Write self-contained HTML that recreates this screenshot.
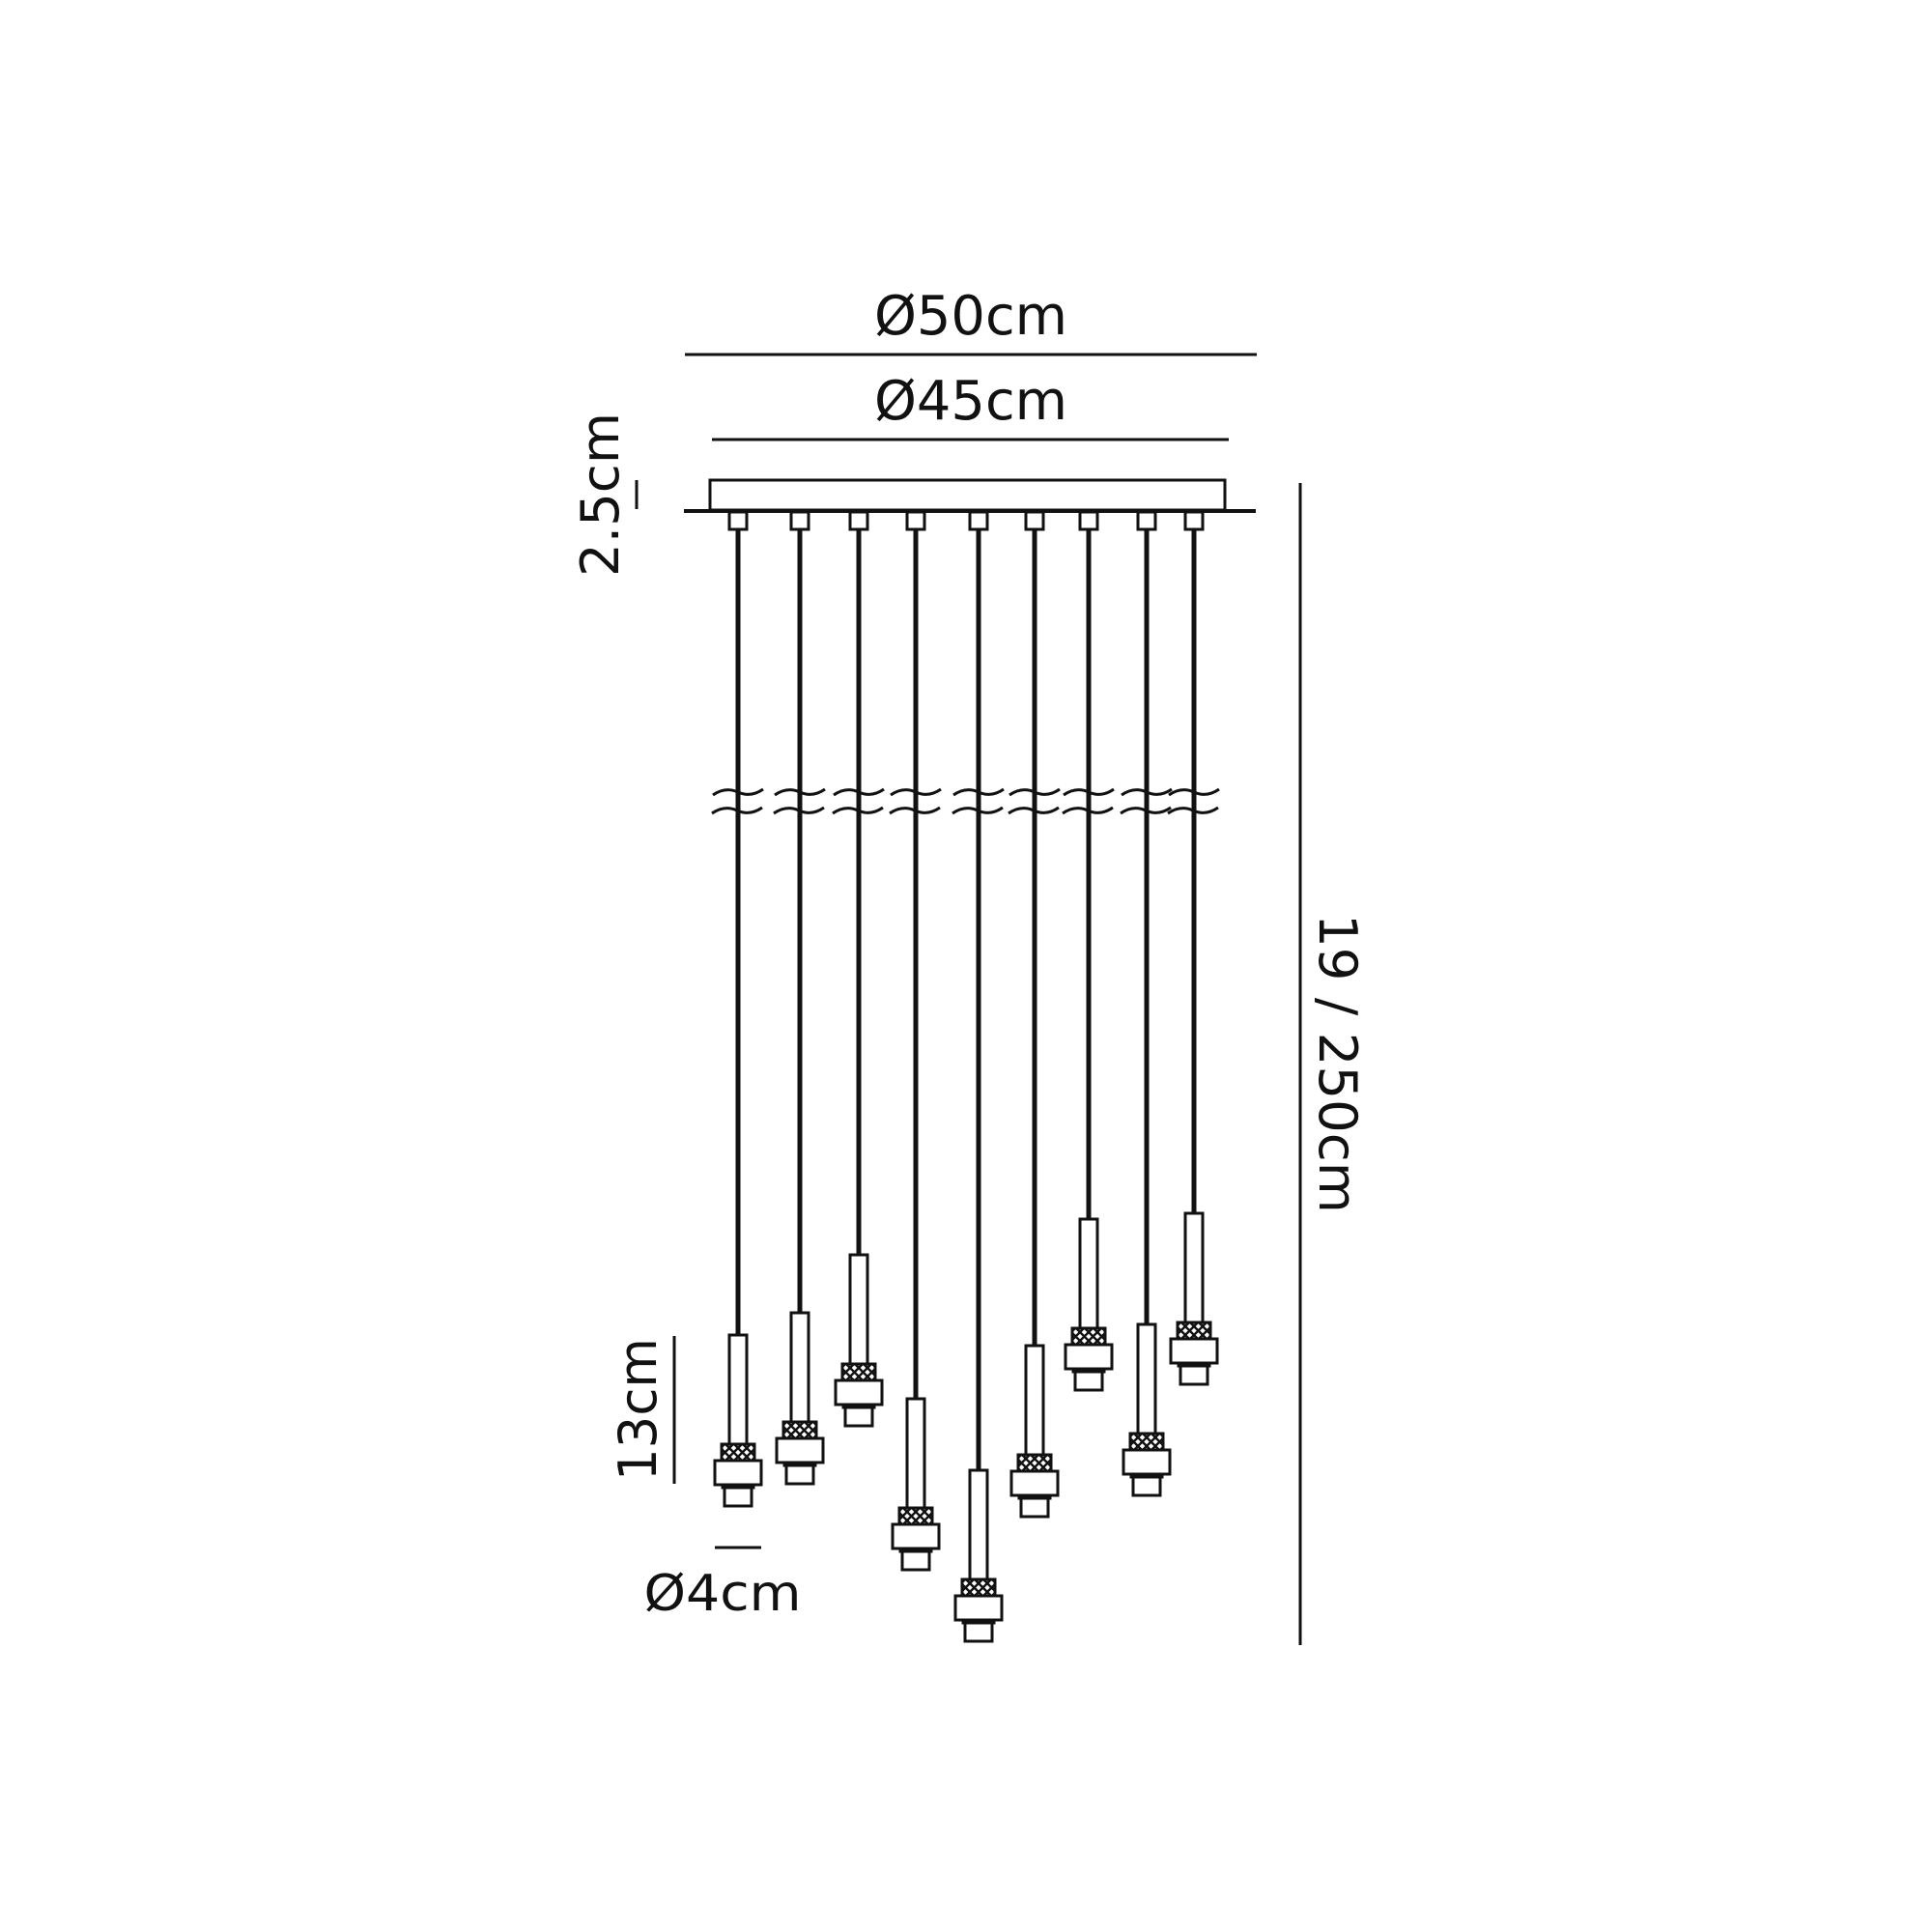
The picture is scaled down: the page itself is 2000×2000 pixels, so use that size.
<!DOCTYPE html>
<html><head><meta charset="utf-8"><style>html,body{margin:0;padding:0;background:#fff}svg{display:block}</style></head>
<body>
<svg width="2000" height="2000" viewBox="0 0 2000 2000" xmlns="http://www.w3.org/2000/svg">
<defs>
<pattern id="kn" width="9" height="9" patternUnits="userSpaceOnUse">
<rect width="9" height="9" fill="#fff"/>
<path d="M0 0L9 9M9 0L0 9" stroke="#111" stroke-width="2.4"/>
</pattern>
<g id="b" stroke="#111" stroke-width="3" fill="#fff">
<rect x="-9" y="0" width="18" height="113"/>
<rect x="-17" y="113" width="34" height="17" fill="url(#kn)"/>
<rect x="-24" y="130" width="48" height="25"/>
<rect x="-16" y="155" width="32" height="3"/>
<rect x="-14" y="158" width="28" height="19"/>
</g>
<g id="top" stroke="#111" fill="#fff">
<rect x="-9" y="530" width="18" height="18" stroke-width="3"/>
<path fill="none" stroke-width="3" d="M-26 823 q13 -9 26 -3 t26 -3 M-27 842 q13 -9 26 -3 t26 -3"/>
</g>
</defs>
<g fill="none" stroke="#111" stroke-width="3">
<line x1="709" y1="367" x2="1301" y2="367"/>
<line x1="737" y1="455" x2="1272" y2="455"/>
<rect x="735" y="497" width="533" height="31" fill="#fff"/>
<line x1="708" y1="529" x2="1300" y2="529" stroke-width="4"/>
<line x1="1346" y1="500" x2="1346" y2="1703"/>
<line x1="659" y1="497" x2="659" y2="527"/>
<line x1="698" y1="1383" x2="698" y2="1536"/>
<line x1="740" y1="1602" x2="788" y2="1602"/>
</g>
<g stroke="#111" stroke-width="5">
<line x1="764" y1="548" x2="764" y2="1382"/>
<line x1="828" y1="548" x2="828" y2="1359"/>
<line x1="889" y1="548" x2="889" y2="1299"/>
<line x1="948" y1="548" x2="948" y2="1448"/>
<line x1="1013" y1="548" x2="1013" y2="1522"/>
<line x1="1071" y1="548" x2="1071" y2="1393"/>
<line x1="1127" y1="548" x2="1127" y2="1262"/>
<line x1="1187" y1="548" x2="1187" y2="1371"/>
<line x1="1236" y1="548" x2="1236" y2="1256"/>
</g>
<use href="#top" transform="translate(764,0)"/>
<use href="#top" transform="translate(828,0)"/>
<use href="#top" transform="translate(889,0)"/>
<use href="#top" transform="translate(948,0)"/>
<use href="#top" transform="translate(1013,0)"/>
<use href="#top" transform="translate(1071,0)"/>
<use href="#top" transform="translate(1127,0)"/>
<use href="#top" transform="translate(1187,0)"/>
<use href="#top" transform="translate(1236,0)"/>
<use href="#b" transform="translate(764,1382)"/>
<use href="#b" transform="translate(828,1359)"/>
<use href="#b" transform="translate(889,1299)"/>
<use href="#b" transform="translate(948,1448)"/>
<use href="#b" transform="translate(1013,1522)"/>
<use href="#b" transform="translate(1071,1393)"/>
<use href="#b" transform="translate(1127,1262)"/>
<use href="#b" transform="translate(1187,1371)"/>
<use href="#b" transform="translate(1236,1256)"/>
<g font-family="DejaVu Sans, Liberation Sans, sans-serif" font-size="56" fill="#111">
<text x="1005" y="346" text-anchor="middle" textLength="200" lengthAdjust="spacingAndGlyphs">Ø50cm</text>
<text x="1005" y="434" text-anchor="middle" textLength="200" lengthAdjust="spacingAndGlyphs">Ø45cm</text>
<text x="748" y="1667" text-anchor="middle" font-size="52" textLength="163" lengthAdjust="spacingAndGlyphs">Ø4cm</text>
<text transform="translate(640,512) rotate(-90)" text-anchor="middle" font-size="54" textLength="170" lengthAdjust="spacingAndGlyphs">2.5cm</text>
<text transform="translate(679,1459) rotate(-90)" text-anchor="middle" font-size="54" textLength="148" lengthAdjust="spacingAndGlyphs">13cm</text>
<text transform="translate(1366,1101) rotate(90)" text-anchor="middle" font-size="54" textLength="310" lengthAdjust="spacingAndGlyphs">19 / 250cm</text>
</g>
</svg>
</body></html>
